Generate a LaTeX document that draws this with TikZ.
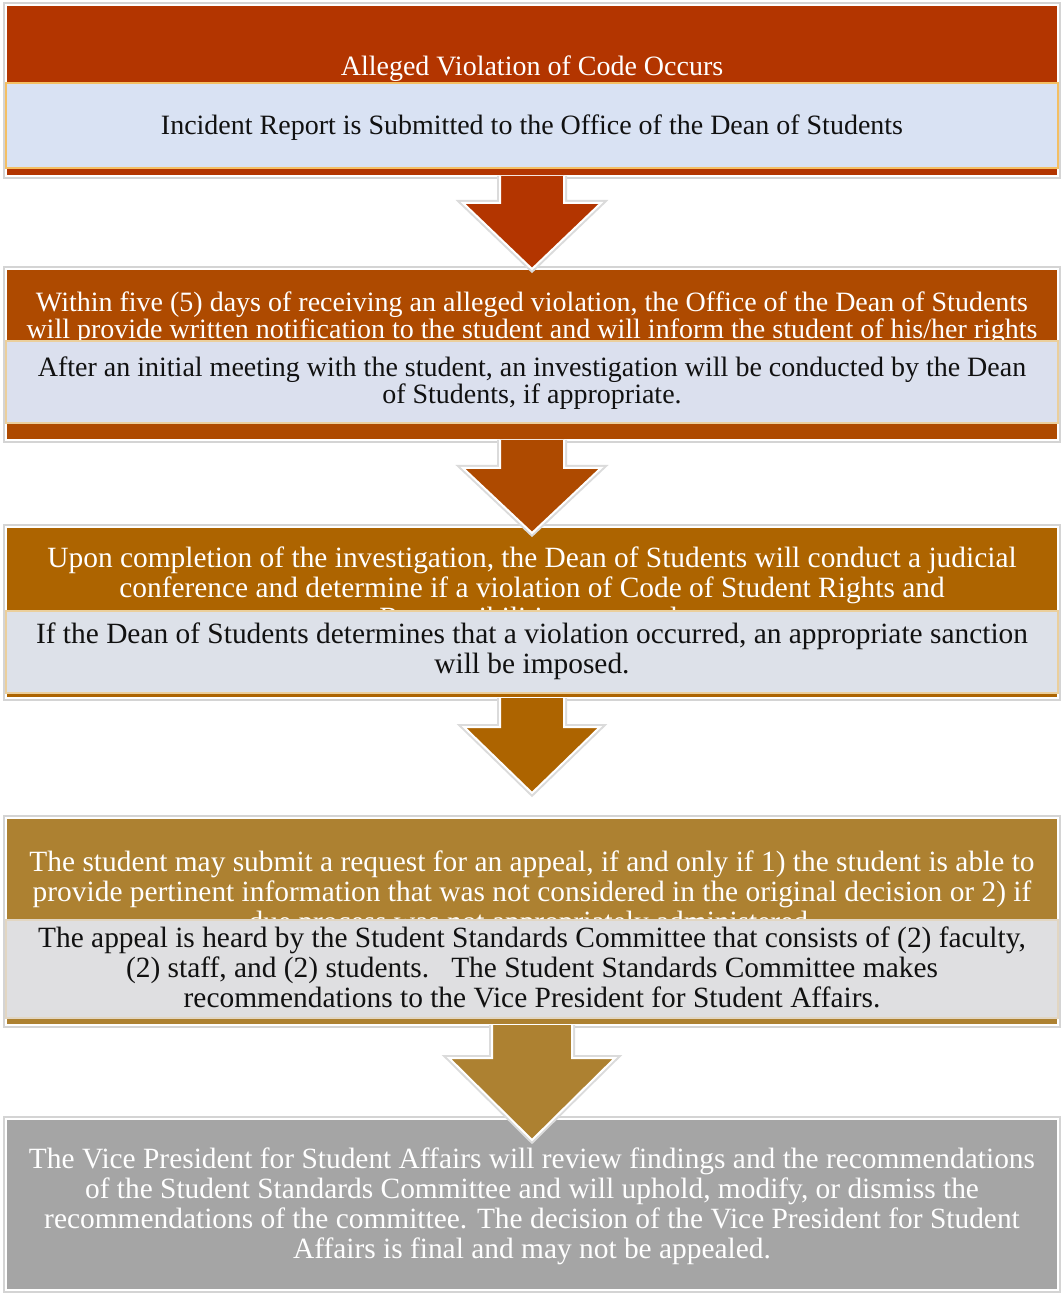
\documentclass[tikz,border=0pt]{standalone}
\usepackage{fontspec}
\setmainfont{Liberation Serif}
\usepackage{xcolor}
\usetikzlibrary{calc}
\definecolor{rust}{HTML}{B33500}
\definecolor{burnt}{HTML}{AE4A00}
\definecolor{amber}{HTML}{AD6400}
\definecolor{ochre}{HTML}{AD8131}
\definecolor{slate}{HTML}{A5A5A5}
\definecolor{paleblue}{HTML}{D9E2F3}
\definecolor{palemist}{HTML}{DBE0EE}
\definecolor{palesteel}{HTML}{DDE1E9}
\definecolor{palegray}{HTML}{DFDFE1}
\definecolor{edgeglow}{HTML}{F4BF63}
\definecolor{edgesand}{HTML}{EBCF9C}
\definecolor{edgedust}{HTML}{E2D6C2}
\definecolor{ink}{HTML}{111111}
\AtBeginDocument{\lineskiplimit=-20pt\relax}

\begin{document}
\begin{tikzpicture}[x=0.5pt,y=-0.5pt,
  block/.style={minimum width=526pt,minimum height=85.5pt,inner sep=0pt,outer sep=0pt,anchor=north,draw=white,line width=1pt,preaction={draw=black!17,line width=3pt}},
  panel/.style={minimum width=526pt,inner sep=0pt,outer sep=0pt,anchor=north,line width=0.8pt},
  head/.style={text=white,align=center,inner sep=0pt,font=\fontsize{14.7}{15}\selectfont},
  body/.style={text=ink,align=center,inner sep=0pt,font=\fontsize{14.7}{15}\selectfont},
  small/.style={font=\fontsize{14}{13.5}\selectfont},
  flow/.style={draw=white,line width=1pt,preaction={draw=black!14,line width=3pt}}]
\fill[white] (0,0) rectangle (1062,1293);
\useasboundingbox (0,0) rectangle (1062,1293);

% step 1
\node[block,fill=rust] (b1) at (532,5) {};
\node[head,small] (t1) at (532,70) {\strut Alleged Violation of Code Occurs};
\node[panel,fill=paleblue,draw=edgeglow,minimum height=42.5pt] (p1) at (532,83) {};
\node[body,small] (n1) at (532,129) {\strut Incident Report is Submitted to the Office of the Dean of Students};

% step 2
\node[block,fill=burnt] (b2) at (532,269) {};
\node[head,small] (t2) at (532,319.5) {\strut Within five (5) days of receiving an alleged violation, the Office of the Dean of Students\\\strut will provide written notification to the student and will inform the student of his/her rights};
\node[panel,fill=palemist,draw=edgesand,minimum height=41pt] (p2) at (532,341) {};
\node[body,small] (n2) at (532,384.5) {\strut After an initial meeting with the student, an investigation will be conducted by the Dean\\\strut of Students, if appropriate.};

% step 3
\node[block,fill=amber] (b3) at (532,527) {};
\node[head] (t3) at (532,591) {\strut Upon completion of the investigation, the Dean of Students will conduct a judicial\\\strut conference and determine if a violation of Code of Student Rights and\\\strut Responsibilities occurred.};
\node[panel,fill=palesteel,draw=edgesand,minimum height=41pt] (p3) at (532,611) {};
\node[body] (n3) at (532,652) {\strut If the Dean of Students determines that a violation occurred, an appropriate sanction\\\strut will be imposed.};

% step 4
\node[block,fill=ochre,minimum height=103.5pt] (b4) at (532,818) {};
\node[head] (t4) at (532,895) {\strut The student may submit a request for an appeal, if and only if 1) the student is able to\\\strut provide pertinent information that was not considered in the original decision or 2) if\\\strut due process was not appropriately administered.};
\node[panel,fill=palegray,draw=edgedust,minimum height=49pt] (p4) at (532,920) {};
\node[body] (n4) at (532,971) {\strut The appeal is heard by the Student Standards Committee that consists of (2) faculty,\\\strut (2) staff, and (2) students.\hspace{11pt}The Student Standards Committee makes\\\strut recommendations to the Vice President for Student Affairs.};

% step 5
\node[block,fill=slate] (b5) at (532,1119) {};
\node[head] (t5) at (532,1207.5) {\strut The Vice President for Student Affairs will review findings and the recommendations\\\strut of the Student Standards Committee and will uphold, modify, or dismiss the\\\strut recommendations of the committee. The decision of the Vice President for Student\\\strut Affairs is final and may not be appealed.};

% arrows
\filldraw[flow,fill=rust] ($(b1.south)+(-32,0)$) -- ++(0,27) -- ++(-37,0) -- (b2.north) -- ($(b1.south)+(69,27)$) -- ++(-37,0) -- ++(0,-27);
\filldraw[flow,fill=burnt] ($(b2.south)+(-32,0)$) -- ++(0,28) -- ++(-37,0) -- ($(b3.north)+(0,6)$) -- ($(b2.south)+(69,28)$) -- ++(-37,0) -- ++(0,-28);
\filldraw[flow,fill=amber] ($(b3.south)+(-32,0)$) -- ++(0,29) -- ++(-36,0) -- ($(b4.north)+(0,-25)$) -- ($(b3.south)+(68,29)$) -- ++(-36,0) -- ++(0,-29);
\filldraw[flow,fill=ochre] ($(b4.south)+(-40,0)$) -- ++(0,33) -- ++(-43,0) -- ($(b5.north)+(0,21)$) -- ($(b4.south)+(83,33)$) -- ++(-43,0) -- ++(0,-33);
\end{tikzpicture}
\end{document}
